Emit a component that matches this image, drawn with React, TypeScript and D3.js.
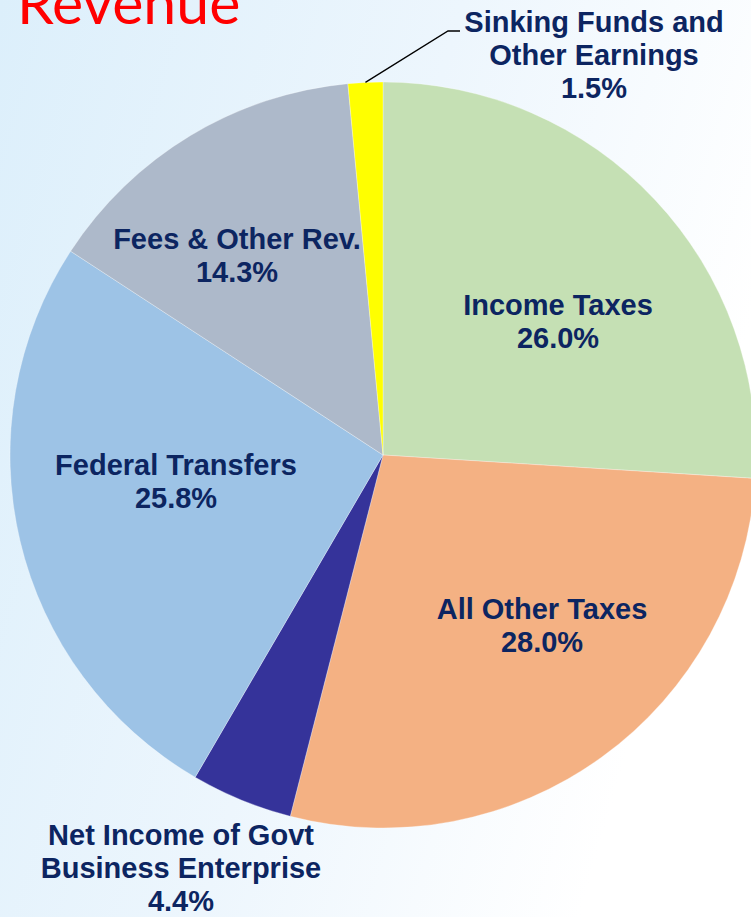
import React from "react";
import * as d3 from "d3";

const categories = [
  "Income Taxes",
  "All Other Taxes",
  "Net Income of Govt Business Enterprise",
  "Federal Transfers",
  "Fees & Other Rev.",
  "Sinking Funds and Other Earnings",
];
const values = [26.0, 28.0, 4.4, 25.8, 14.3, 1.5];
const labelLines = [
  ["Income Taxes"],
  ["All Other Taxes"],
  ["Net Income of Govt", "Business Enterprise"],
  ["Federal Transfers"],
  ["Fees & Other Rev."],
  ["Sinking Funds and", "Other Earnings"],
];
const colors = ["#c5e0b4", "#f4b183", "#35339a", "#9dc3e6", "#adb9ca", "#ffff00"];

// layout (label anchor: center x, first baseline y)
const W = 751;
const H = 917;
const CX = 383;
const CY = 455;
const R = 373;
const labelPos: [number, number][] = [
  [558, 315],
  [542, 619],
  [181, 845],
  [176, 475],
  [237, 249],
  [594, 32],
];
const LINE_H = 33;

export default function App() {
  const pie = d3
    .pie<number>()
    .sort(null)
    .value((d) => d)
    .startAngle(0)
    .endAngle(2 * Math.PI);
  const arcs = pie(values);
  const arc = d3.arc<d3.PieArcDatum<number>>().innerRadius(0).outerRadius(R);

  // leader line for the small slice
  const small = arcs[5];
  const mid = (small.startAngle + small.endAngle) / 2;
  const p0: [number, number] = [CX + R * Math.sin(mid), CY - R * Math.cos(mid)];
  const p1: [number, number] = [448, 31];
  const p2: [number, number] = [460, 31];
  const leader = d3.line()([p0, p1, p2]);

  return (
    <div style={{ position: "absolute", left: 0, top: 0, width: W, height: H }}>
      <svg width={W} height={H} style={{ display: "block" }}>
        <defs>
          <linearGradient id="bg" x1="0" y1="0" x2="1" y2="0.35">
            <stop offset="0" stopColor="#dceffb" />
            <stop offset="0.55" stopColor="#edf6fd" />
            <stop offset="1" stopColor="#ffffff" />
          </linearGradient>
        </defs>
        <rect x={0} y={0} width={W} height={H} fill="url(#bg)" />
        <text
          x={17}
          y={24}
          fill="#ff0000"
          fontFamily="Lato, 'Open Sans', sans-serif"
          fontSize={59}
        >
          Revenue
        </text>
        <g transform={`translate(${CX},${CY})`}>
          {arcs.map((a, i) => (
            <path
              key={categories[i]}
              d={arc(a) || ""}
              fill={colors[i]}
              stroke="#ffffff"
              strokeWidth={0.6}
              strokeOpacity={0.5}
            />
          ))}
        </g>
        <path d={leader || ""} fill="none" stroke="#000" strokeWidth={1.3} />
        {labelLines.map((lines, i) => {
          const [x, y] = labelPos[i];
          const all = [...lines, `${values[i].toFixed(1)}%`];
          return (
            <text
              key={categories[i]}
              x={x}
              y={y}
              textAnchor="middle"
              fontFamily="'Liberation Sans', Arial, sans-serif"
              fontWeight="bold"
              fontSize={29}
              fill="#0c2561"
            >
              {all.map((t, j) => (
                <tspan key={j} x={x} y={y + j * LINE_H}>
                  {t}
                </tspan>
              ))}
            </text>
          );
        })}
      </svg>
    </div>
  );
}
